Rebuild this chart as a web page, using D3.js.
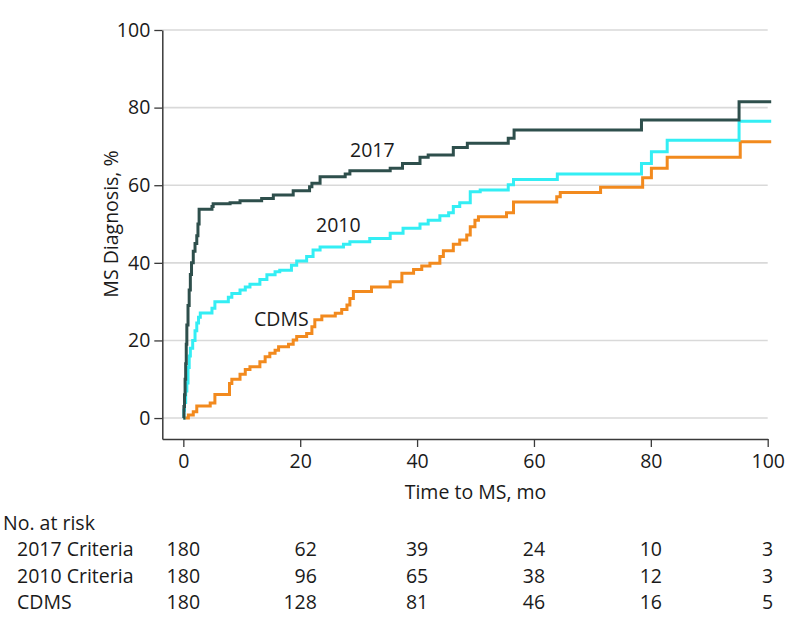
<!DOCTYPE html>
<html>
<head>
<meta charset="utf-8">
<script src="https://cdn.jsdelivr.net/npm/d3@7"></script>
<style>
  html, body { margin: 0; padding: 0; background: #fff; }
  svg text { font-family: "Open Sans", Lato, sans-serif; fill: #1a1a1a; }
</style>
</head>
<body>
<svg id="chart" width="794" height="629"></svg>
<script>
// ---- Data ----
const xTicks = [0, 20, 40, 60, 80, 100];
const yTicks = [0, 20, 40, 60, 80, 100];

const series2017Times = [0, 0.1, 0.2, 0.3, 0.4, 0.5, 0.6, 0.8, 1.0, 1.2, 1.4, 1.7, 2.0, 2.3, 2.5, 2.7, 4.9, 5.1, 8.0, 9.7, 13.4, 15.4, 18.8, 21.6, 22.0, 23.4, 27.7, 28.5, 35.4, 37.5, 40.5, 41.9, 46.2, 48.6, 55.6, 56.6, 78.4, 95.1, 100.6];
const series2017Values = [0, 3, 6, 10, 14, 19, 24, 29, 33, 37, 40, 43, 45, 47, 50, 53.8, 54.5, 55.2, 55.5, 56.0, 56.6, 57.5, 58.6, 59.6, 60.5, 62.2, 62.9, 63.7, 64.4, 65.6, 67.2, 67.8, 69.7, 70.8, 72.1, 74.2, 76.8, 81.5, 81.5];

const series2010Times = [0, 0.1, 0.2, 0.4, 0.6, 0.8, 1.0, 1.2, 1.6, 2.0, 2.3, 2.6, 2.9, 4.9, 5.4, 7.7, 8.3, 9.7, 10.6, 11.4, 13.1, 14.3, 15.7, 16.5, 18.5, 19.4, 21.1, 22.2, 23.4, 27.4, 28.5, 31.9, 35.4, 37.6, 40.5, 41.9, 43.9, 45.4, 46.2, 47.3, 49.1, 50.8, 55.6, 56.5, 64.0, 78.4, 80.1, 82.8, 95.1, 100.6];
const series2010Values = [0, 2, 4, 7, 9, 13, 16, 18, 20, 22.5, 24.5, 26, 27.1, 28.3, 30, 31.1, 32.1, 33, 33.8, 34.5, 35.7, 36.9, 37.7, 38.1, 39.4, 40.5, 41.6, 43.3, 44.1, 44.8, 45.4, 46.3, 47.6, 48.9, 50, 51, 52.1, 52.9, 54.5, 55.5, 58.3, 58.8, 60.1, 61.5, 62.9, 65.6, 68.6, 71.6, 76.5, 76.5];

const seriesCDMSTimes = [0, 0.86, 1.7, 2.3, 4.6, 5.4, 7.9, 8.3, 9.7, 10.6, 11.4, 13.1, 14.0, 14.8, 15.7, 16.3, 18.0, 18.8, 19.4, 21.1, 22.0, 22.5, 23.7, 26.0, 27.1, 28.0, 28.5, 29.1, 32.2, 35.4, 37.4, 39.4, 40.8, 42.2, 43.9, 44.5, 46.2, 47.3, 48.5, 49.1, 49.9, 50.5, 55.3, 56.5, 63.9, 64.5, 71.4, 78.6, 80.1, 82.8, 95.3, 100.6];
const seriesCDMSValues = [0, 0.8, 1.6, 3.1, 3.9, 6.1, 8.9, 10, 11.3, 12.5, 13.2, 14.5, 15.8, 16.7, 17.5, 18.4, 19, 20.1, 21, 21.8, 23.5, 25.3, 26.3, 27, 28, 29.1, 30.8, 32.6, 33.8, 35.1, 37.3, 38.3, 39.2, 39.9, 41.6, 43.1, 44.8, 45.9, 47.2, 49.3, 51, 51.9, 52.9, 55.7, 57, 58.1, 59.5, 61.9, 64.4, 67.2, 71.2, 71.2];

const riskLabels = ["2017 Criteria", "2010 Criteria", "CDMS"];
const risk2017 = [180, 62, 39, 24, 10, 3];
const risk2010 = [180, 96, 65, 38, 12, 3];
const riskCDMS = [180, 128, 81, 46, 16, 5];

// ---- Layout / style ----
const svg = d3.select("#chart");
const FS = 19.5;
const FONT = "'Open Sans', Lato, sans-serif";
const x = d3.scaleLinear().domain([-3.6, 100]).range([162.3, 767.7]);
const y = d3.scaleLinear().domain([-5.4, 100]).range([439, 30]);

// gridlines
svg.append("g").selectAll("line").data(yTicks).join("line")
  .attr("x1", x(-3.6)).attr("x2", x(100))
  .attr("y1", d => y(d)).attr("y2", d => y(d))
  .attr("stroke", "#d9d9d9").attr("stroke-width", 1.6);

// axes
const xAxis = svg.append("g").attr("transform", `translate(0,${y(-5.4)})`)
  .call(d3.axisBottom(x).tickValues(xTicks).tickSize(8).tickSizeOuter(0).tickPadding(7));
const yAxis = svg.append("g").attr("transform", `translate(${x(-3.6)},0)`)
  .call(d3.axisLeft(y).tickValues(yTicks).tickSize(8).tickSizeOuter(0).tickPadding(4));
[xAxis, yAxis].forEach(g => {
  g.select(".domain").attr("stroke", "#3a3a3a").attr("stroke-width", 1.5);
  g.selectAll(".tick line").attr("stroke", "#3a3a3a").attr("stroke-width", 1.3);
  g.selectAll(".tick text").attr("font-size", FS).attr("font-family", FONT).attr("fill", "#1a1a1a");
});

// axis titles
svg.append("text").attr("x", x(50)).attr("y", 499).attr("text-anchor", "middle")
  .attr("font-size", FS).text("Time to MS, mo");
svg.append("text").attr("transform", `translate(118,${y(50)}) rotate(-90)`)
  .attr("text-anchor", "middle").attr("font-size", FS).text("MS Diagnosis, %");

// curves
const line = d3.line().x(d => x(d[0])).y(d => y(d[1])).curve(d3.curveStepAfter);
const curves = [
  { t: seriesCDMSTimes, v: seriesCDMSValues, color: "#f28a1e" },
  { t: series2010Times, v: series2010Values, color: "#33eef4" },
  { t: series2017Times, v: series2017Values, color: "#2e4f4c" }
];
curves.forEach(c => {
  const pts = c.t.map((t, i) => [t, c.v[i]]);
  svg.append("path").datum(pts).attr("d", line)
    .attr("fill", "none").attr("stroke", c.color).attr("stroke-width", 3)
    .attr("stroke-linejoin", "miter");
});

// series labels
svg.append("text").attr("x", 350).attr("y", 157).attr("font-size", FS).text("2017");
svg.append("text").attr("x", 316).attr("y", 232).attr("font-size", FS).text("2010");
svg.append("text").attr("x", 254).attr("y", 326).attr("font-size", FS).text("CDMS");

// number at risk table
svg.append("text").attr("x", 3).attr("y", 530).attr("font-size", FS).text("No. at risk");
const riskRows = [risk2017, risk2010, riskCDMS];
const rowY = [556, 582.5, 608.5];
riskLabels.forEach((lab, i) => {
  svg.append("text").attr("x", 17).attr("y", rowY[i]).attr("font-size", FS).text(lab);
});
// per column: right-align, widest entry centred on the tick
xTicks.forEach((t, j) => {
  const col = riskRows.map(r => r[j]);
  const maxLen = d3.max(col, d => String(d).length);
  const tmp = svg.append("text").attr("font-size", FS).text("0".repeat(maxLen));
  const w = tmp.node().getComputedTextLength();
  tmp.remove();
  col.forEach((v, i) => {
    svg.append("text").attr("x", x(t) + w / 2).attr("y", rowY[i])
      .attr("text-anchor", "end").attr("font-size", FS).text(v);
  });
});
</script>
</body>
</html>
